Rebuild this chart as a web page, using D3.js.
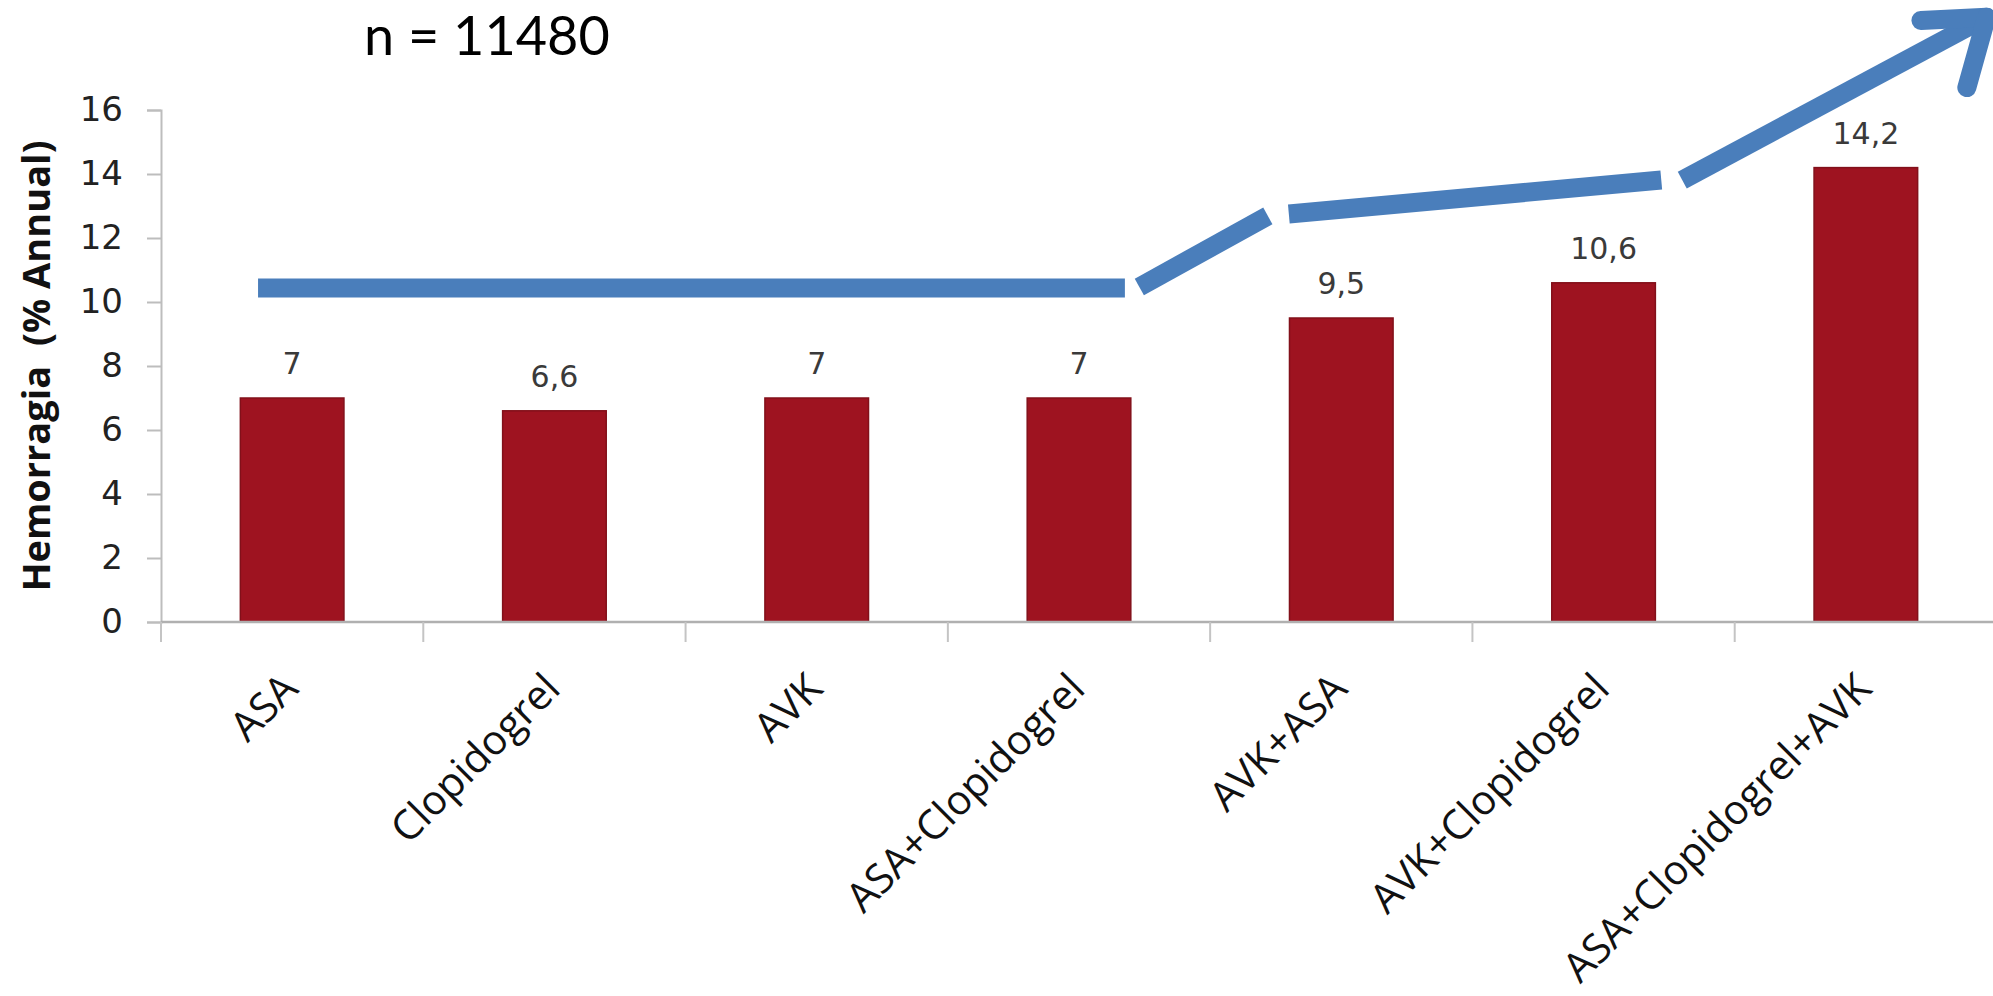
<!DOCTYPE html>
<html>
<head>
<meta charset="utf-8">
<script src="https://cdn.jsdelivr.net/npm/d3@7/dist/d3.min.js"></script>
<style>
  html, body { margin: 0; padding: 0; background: #ffffff; }
  svg { display: block; }
</style>
</head>
<body>
<svg id="chart" width="1993" height="996"></svg>
<script>
// Annual bleeding rate by antithrombotic regimen
const categories = ["ASA", "Clopidogrel", "AVK", "ASA+Clopidogrel", "AVK+ASA", "AVK+Clopidogrel", "ASA+Clopidogrel+AVK"];
const values = [7, 6.6, 7, 7, 9.5, 10.6, 14.2];
const yTicks = [0, 2, 4, 6, 8, 10, 12, 14, 16];
const yTitle = "Hemorragia  (% Annual)";
const sampleNote = "n = 11480";

// Trend arrow drawn over the bars, as separate strokes.
// Each point is [position along the category axis (0 = left edge of first band), value].
const trendSegments = [
  [[0.37, 10.44], [3.675, 10.44]],
  [[3.73, 10.47], [4.22, 12.69]],
  [[4.30, 12.75], [5.72, 13.81]],
  [[5.80, 13.81], [6.96, 18.9]]
];
const arrowHeadArms = [
  [[6.71, 18.8], [6.96, 18.9]],
  [[6.885, 16.7], [6.96, 18.9]]
];

const svg = d3.select("#chart");

const plot = { left: 161, right: 1997, top: 110, bottom: 622 };

const x = d3.scaleBand()
  .domain(categories)
  .range([plot.left, plot.right])
  .padding(0);

const xPos = d3.scaleLinear()
  .domain([0, categories.length])
  .range([plot.left, plot.right]);

const y = d3.scaleLinear()
  .domain([0, 16])
  .range([plot.bottom, plot.top]);

const barWidth = x.bandwidth() * 0.395;
const fmt = v => String(v).replace(".", ",");

// Y axis
const yAxis = svg.append("g")
  .attr("transform", `translate(${plot.left},0)`)
  .call(d3.axisLeft(y).tickValues(yTicks).tickSize(14).tickPadding(24).tickFormat(d3.format("d")));
yAxis.select(".domain").attr("stroke", "#bdbdbd").attr("stroke-width", 2);
yAxis.selectAll(".tick line").attr("stroke", "#bdbdbd").attr("stroke-width", 2);
yAxis.selectAll(".tick text")
  .attr("font-family", "'DejaVu Sans', sans-serif")
  .attr("font-size", 34)
  .attr("fill", "#222");

// Y axis title
svg.append("text")
  .attr("transform", "translate(50,366) rotate(-90)")
  .attr("text-anchor", "middle")
  .attr("font-family", "'Open Sans', sans-serif")
  .attr("font-weight", "bold")
  .attr("font-size", 38)
  .attr("fill", "#111")
  .style("white-space", "pre")
  .text(yTitle);

// Bars
svg.append("g").selectAll("rect")
  .data(categories)
  .join("rect")
  .attr("x", (d) => x(d) + x.bandwidth() / 2 - barWidth / 2)
  .attr("y", (d, i) => y(values[i]))
  .attr("width", barWidth)
  .attr("height", (d, i) => y(0) - y(values[i]))
  .attr("fill", "#9e1320")
  .attr("stroke", "#82101a")
  .attr("stroke-width", 1.5);

// X axis line with category separators
const xAxis = svg.append("g");
xAxis.append("line")
  .attr("x1", plot.left).attr("x2", plot.right)
  .attr("y1", y(0)).attr("y2", y(0))
  .attr("stroke", "#b0b0b0").attr("stroke-width", 2.5);
xAxis.selectAll("line.sep")
  .data(d3.range(categories.length + 1))
  .join("line")
  .attr("class", "sep")
  .attr("x1", (i) => xPos(i)).attr("x2", (i) => xPos(i))
  .attr("y1", y(0)).attr("y2", y(0) + 20)
  .attr("stroke", "#c4c4c4").attr("stroke-width", 2);

// Category labels, rotated
xAxis.selectAll("text")
  .data(categories)
  .join("text")
  .attr("transform", (d) => `translate(${x(d) + x.bandwidth() / 2 + 8},${y(0) + 69}) rotate(-45)`)
  .attr("text-anchor", "end")
  .attr("font-family", "'Open Sans', sans-serif")
  .attr("font-size", 41)
  .attr("fill", "#111")
  .text((d) => d);

// Value labels above bars
svg.append("g").selectAll("text")
  .data(categories)
  .join("text")
  .attr("x", (d) => x(d) + x.bandwidth() / 2)
  .attr("y", (d, i) => y(values[i]) - 24)
  .attr("text-anchor", "middle")
  .attr("font-family", "'DejaVu Sans', sans-serif")
  .attr("font-size", 30)
  .attr("fill", "#3a3a3a")
  .text((d, i) => fmt(values[i]));

// Trend arrow
const trendLine = d3.line()
  .x((p) => xPos(p[0]))
  .y((p) => y(p[1]));

const arrow = svg.append("g")
  .attr("fill", "none")
  .attr("stroke", "#4a7ebb")
  .attr("stroke-width", 19);

arrow.selectAll("path.seg")
  .data(trendSegments)
  .join("path")
  .attr("class", "seg")
  .attr("d", trendLine)
  .attr("stroke-linecap", "butt");

arrow.selectAll("path.head")
  .data(arrowHeadArms)
  .join("path")
  .attr("class", "head")
  .attr("d", trendLine)
  .attr("stroke-linecap", "round");

// Sample size note
svg.append("text")
  .attr("x", 364)
  .attr("y", 55)
  .attr("font-family", "Lato, sans-serif")
  .attr("font-size", 54)
  .attr("fill", "#000")
  .text(sampleNote);
</script>
</body>
</html>
